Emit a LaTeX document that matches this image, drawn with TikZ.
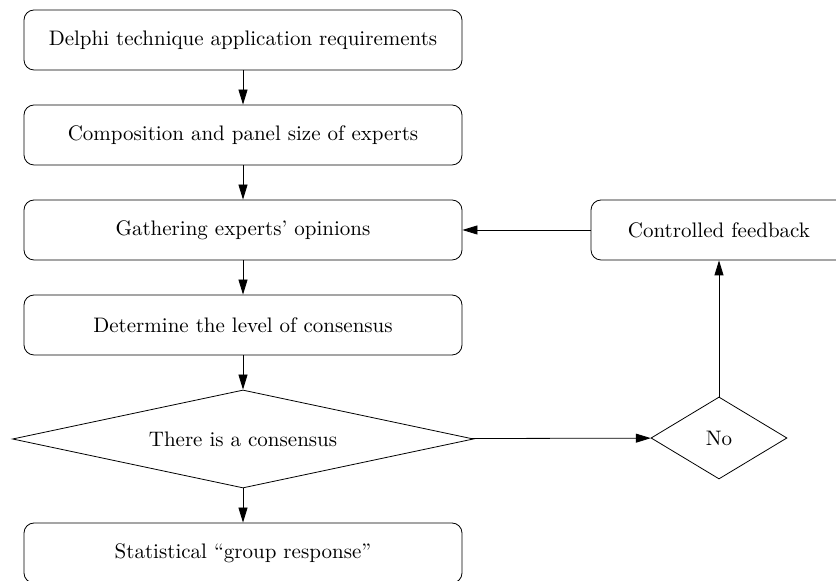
\documentclass[tikz,border=0pt]{standalone}
\usetikzlibrary{shapes.geometric,arrows.meta}
\begin{document}
\begin{tikzpicture}[x=0.5pt,y=-0.5pt,font=\fontsize{10.5}{12}\selectfont,
  stagebox/.style={draw,rounded corners=5pt,minimum width=219pt,minimum height=30pt,inner sep=0pt},
  choice/.style={draw,diamond,inner sep=0pt},
  flow/.style={-{Triangle[length=7.5pt,width=4.5pt]}}]
\useasboundingbox (0,0) rectangle (836,581);
\node[stagebox] (req) at (243,40) {Delphi technique application requirements};
\node[stagebox] (panel) at (243,135) {Composition and panel size of experts};
\node[stagebox] (gather) at (243,230) {Gathering experts' opinions};
\node[stagebox] (level) at (243,325) {Determine the level of consensus};
\node[choice,shape aspect=4.7,minimum width=230.5pt,minimum height=49pt] (cons) at (243,439) {There is a consensus};
\node[stagebox] (group) at (243,553) {Statistical ``group response''};
\node[stagebox,minimum width=128pt] (feed) at (719,230) {Controlled feedback};
\node[choice,shape aspect=1.66,minimum width=68pt,minimum height=41pt] (no) at (719,438) {No};
\draw[flow] (req) -- (panel);
\draw[flow] (panel) -- (gather);
\draw[flow] (gather) -- (level);
\draw[flow] (level) -- (cons);
\draw[flow] (cons) -- (group);
\draw[flow] (cons) -- (no);
\draw[flow] (no) -- (feed);
\draw[flow] (feed) -- (gather);
\end{tikzpicture}
\end{document}
